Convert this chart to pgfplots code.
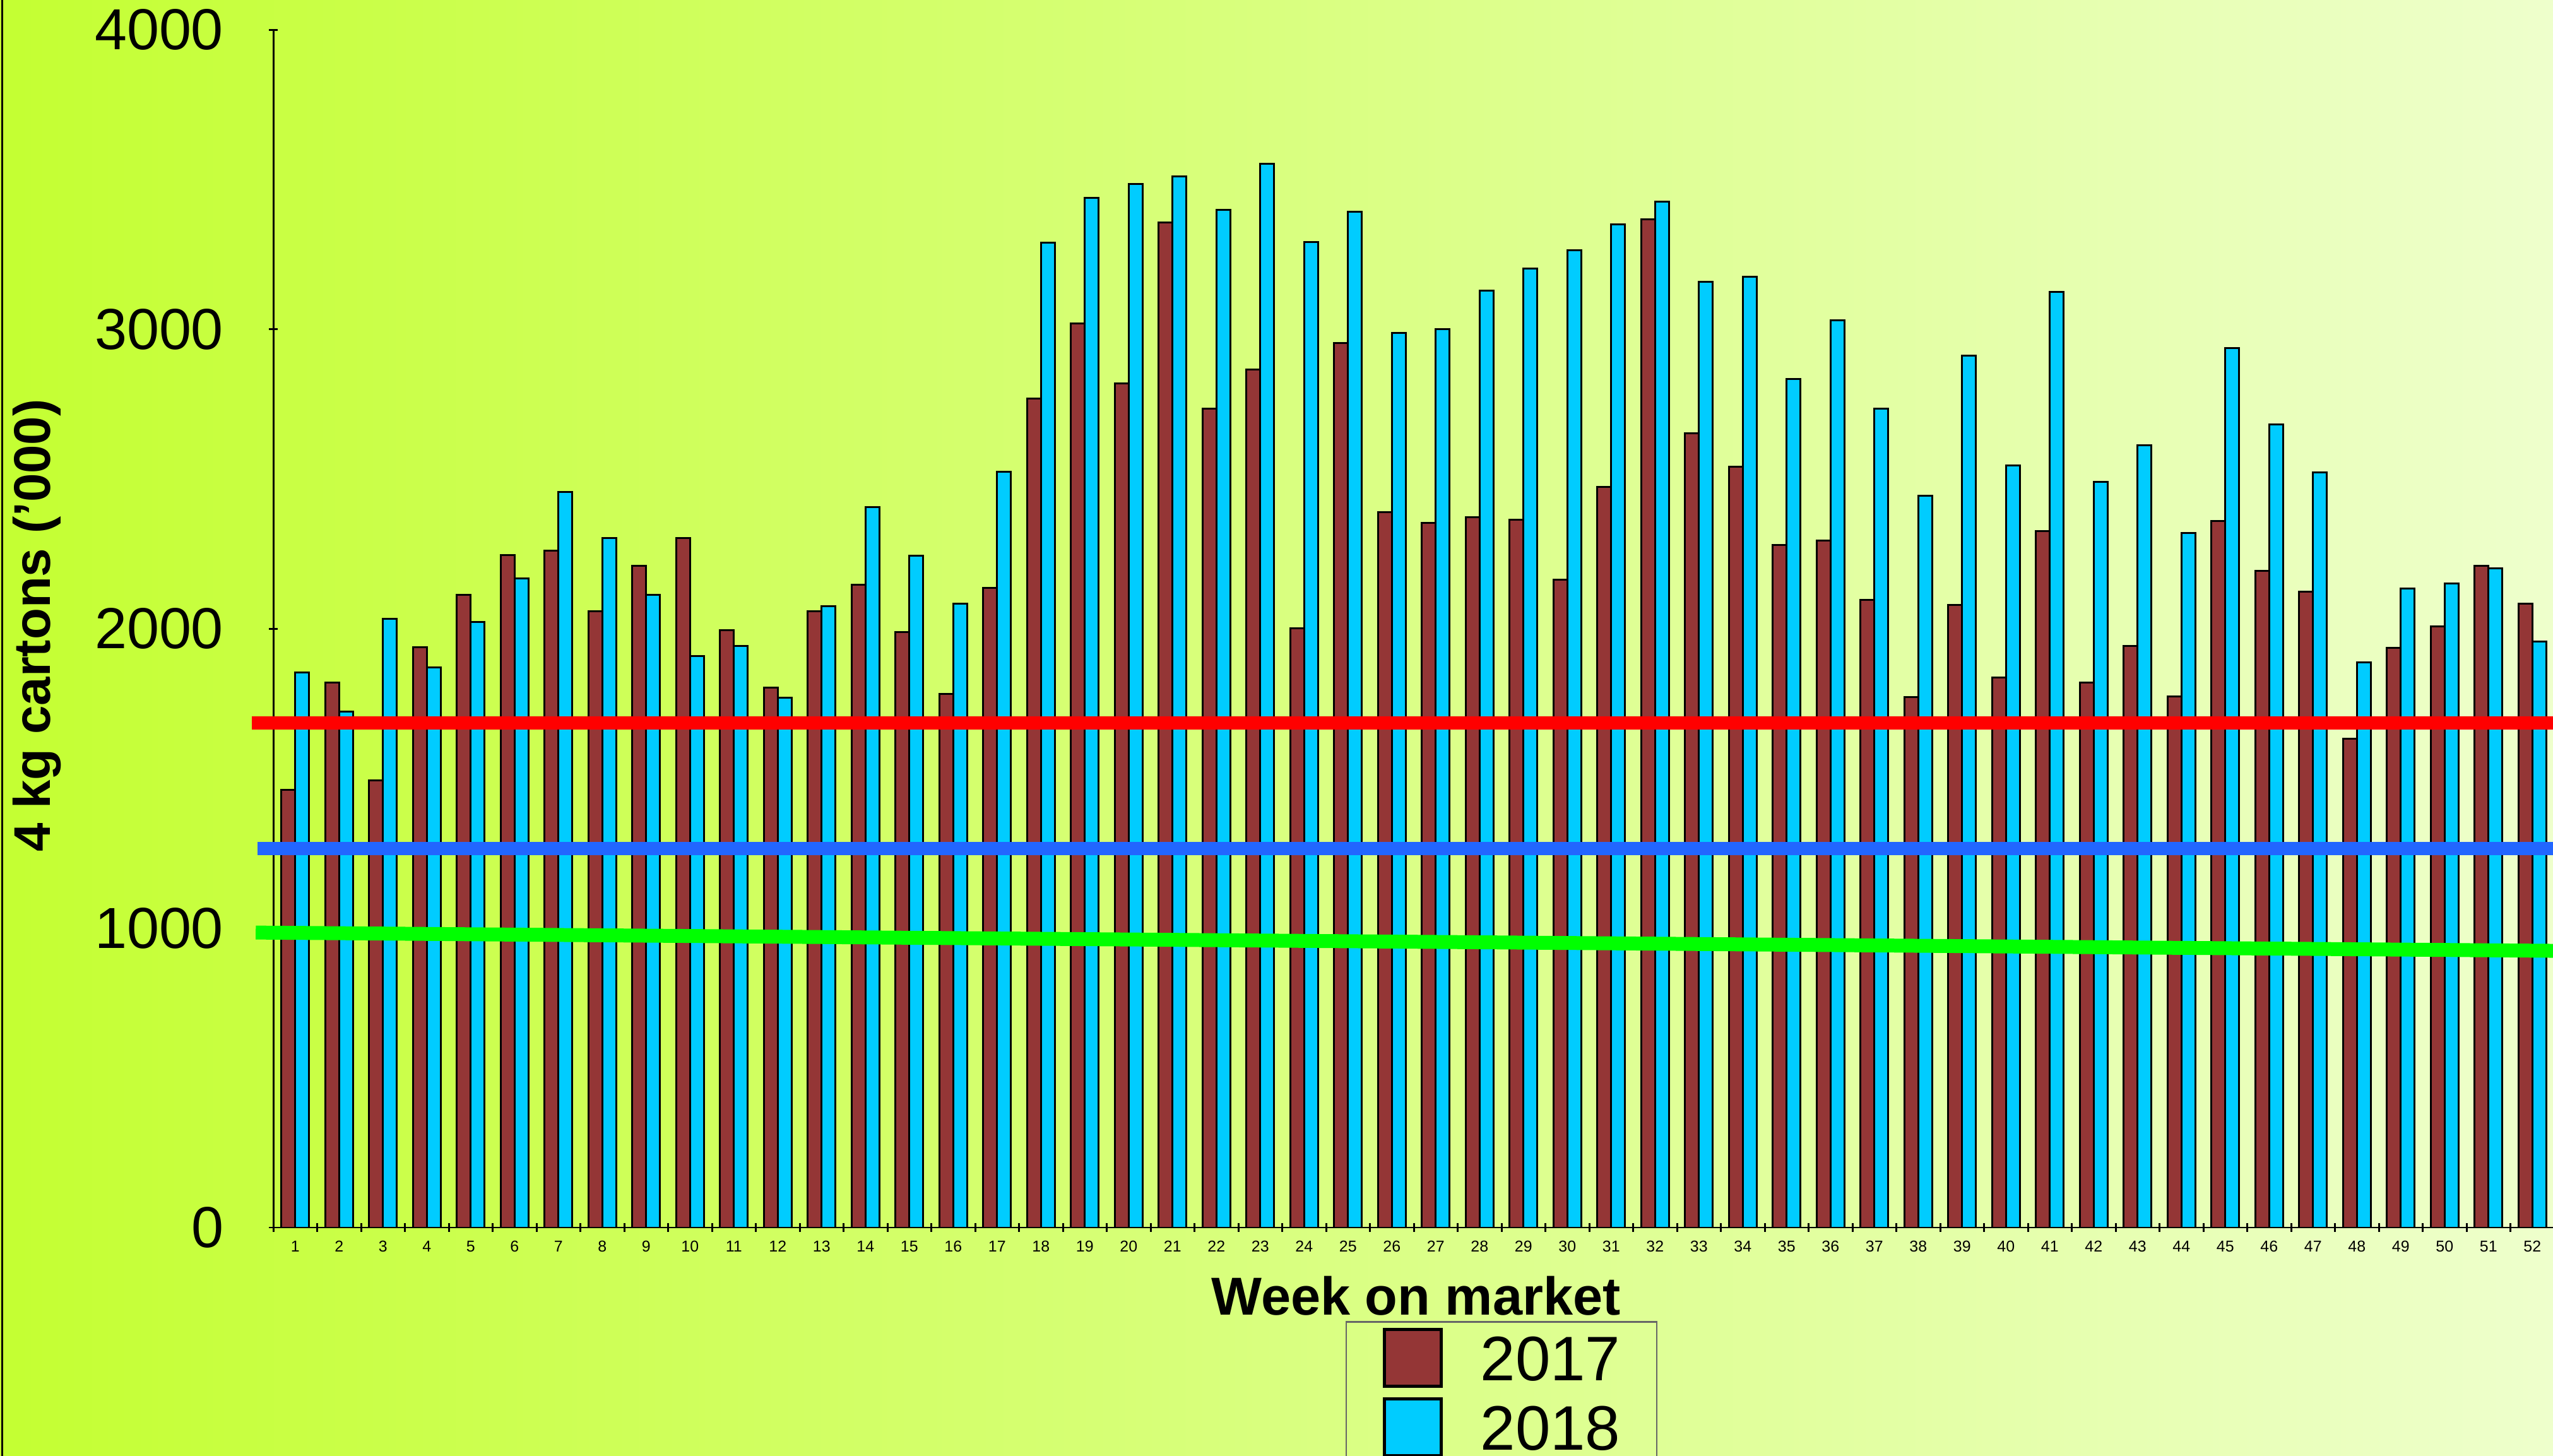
\documentclass[border=0pt]{standalone}
\usepackage{pgfplots}
\pgfplotsset{compat=1.18}
\usepackage{fontspec}
\setmainfont{Liberation Sans}
\definecolor{c17}{RGB}{148,54,54}
\definecolor{c18}{RGB}{0,204,255}
\definecolor{bgL}{RGB}{196,255,50}
\definecolor{bgR}{RGB}{238,255,204}
\definecolor{lblue}{RGB}{34,102,255}
\definecolor{lgreen}{RGB}{0,255,0}
\definecolor{lred}{RGB}{255,0,0}
\pgfplotsset{sqlegend/.style={legend image code/.code={\draw[##1, line width=0.5bp] (0bp,-4.5bp) rectangle (9bp,4.5bp);}}}
\begin{document}
\begin{tikzpicture}
\useasboundingbox (0,0) rectangle (404.5bp,230.7bp);
\clip (0,0) rectangle (404.5bp,230.7bp);
\shade[left color=bgL, right color=bgR] (0,0) rectangle (404.5bp,230.7bp);
\draw[line width=0.3bp] (0.35bp,0) -- (0.35bp,230.7bp);
\begin{axis}[
  at={(43.3bp,36.2bp)}, anchor=south west,
  scale only axis, width=361.4bp, height=189.8bp,
  xmin=0.5, xmax=52.5, ymin=0, ymax=4000,
  axis lines*=left, axis line style={line width=0.3bp, black},
  clip=false,
  tick align=center, major tick length=1.4bp,
  tick style={line width=0.3bp, black},
  ytick={0,1000,2000,3000,4000},
  xtick={0.5,1.5,...,51.5},
  xticklabels={1,2,3,4,5,6,7,8,9,10,11,12,13,14,15,16,17,18,19,20,21,22,23,24,25,26,27,28,29,30,31,32,33,34,35,36,37,38,39,40,41,42,43,44,45,46,47,48,49,50,51,52},
  /pgf/number format/assume math mode=true,
  /pgf/number format/1000 sep={},
  scaled y ticks=false,
  yticklabel style={font=\fontsize{9.2}{9.2}\selectfont, inner sep=0pt, anchor=east, xshift=-7bp},
  xticklabel style={font=\fontsize{2.5}{2.5}\selectfont, inner sep=0pt, anchor=base, xshift=3.475bp, yshift=-3.15bp},
  xlabel={Week on market},
  ylabel={4 kg cartons ('000)},
  xlabel style={font=\bfseries\fontsize{8.5}{8.5}\selectfont, at={(axis description cs:0.501,0)}, anchor=base, yshift=-13.8bp, inner sep=0pt},
  ylabel style={font=\bfseries\fontsize{8.2}{8.2}\selectfont, at={(axis description cs:-0.1035,0.5026)}, anchor=center, inner sep=0pt},
  legend style={at={(axis description cs:0.4701,-0.078)}, anchor=north west,
    draw=black!60, line width=0.25bp, fill=none,
    font=\fontsize{10}{10}\selectfont,
    inner xsep=5.75bp, inner ysep=0.95bp,
    row sep=1.5bp, column sep=6bp,
    cells={anchor=west},
    nodes={inner sep=0pt, text height=7.3bp, text depth=0pt}},
]
\addplot[ybar, bar width=2.2bp, bar shift=-1.1bp, fill=c17, draw=black, line width=0.3bp, sqlegend]
coordinates {
(1,1461)(2,1820)(3,1493)(4,1938)(5,2112)(6,2245)(7,2260)(8,2057)(9,2209)(10,2303)
(11,1994)(12,1803)(13,2057)(14,2146)(15,1989)(16,1781)(17,2136)(18,2768)(19,3020)(20,2819)
(21,3356)(22,2734)(23,2865)(24,2001)(25,2954)(26,2388)(27,2354)(28,2371)(29,2364)(30,2163)
(31,2473)(32,3366)(33,2652)(34,2541)(35,2279)(36,2294)(37,2095)(38,1771)(39,2078)(40,1836)
(41,2325)(42,1820)(43,1943)(44,1774)(45,2359)(46,2192)(47,2124)(48,1633)(49,1936)(50,2008)
(51,2209)(52,2083)};
\addplot[ybar, bar width=2.2bp, bar shift=1.1bp, fill=c18, draw=black, line width=0.3bp, sqlegend]
coordinates {
(1,1853)(2,1723)(3,2032)(4,1870)(5,2023)(6,2168)(7,2456)(8,2303)(9,2112)(10,1909)
(11,1943)(12,1769)(13,2074)(14,2405)(15,2243)(16,2083)(17,2524)(18,3288)(19,3438)(20,3484)
(21,3511)(22,3399)(23,3552)(24,3291)(25,3392)(26,2988)(27,3000)(28,3128)(29,3203)(30,3264)
(31,3349)(32,3426)(33,3158)(34,3174)(35,2833)(36,3029)(37,2734)(38,2444)(39,2911)(40,2545)
(41,3124)(42,2490)(43,2613)(44,2320)(45,2937)(46,2681)(47,2521)(48,1887)(49,2134)(50,2151)
(51,2202)(52,1957)};
\legend{2017,2018}
\addplot[lred, line width=2.1bp, forget plot] coordinates {(0.01,1684) (53.5,1684)};
\addplot[lblue, line width=2.1bp, forget plot] coordinates {(0.14,1265) (53.5,1265)};
\addplot[lgreen, line width=2.2bp, forget plot] coordinates {(0.1,985) (52.5,924)};
\end{axis}
\end{tikzpicture}
\end{document}
